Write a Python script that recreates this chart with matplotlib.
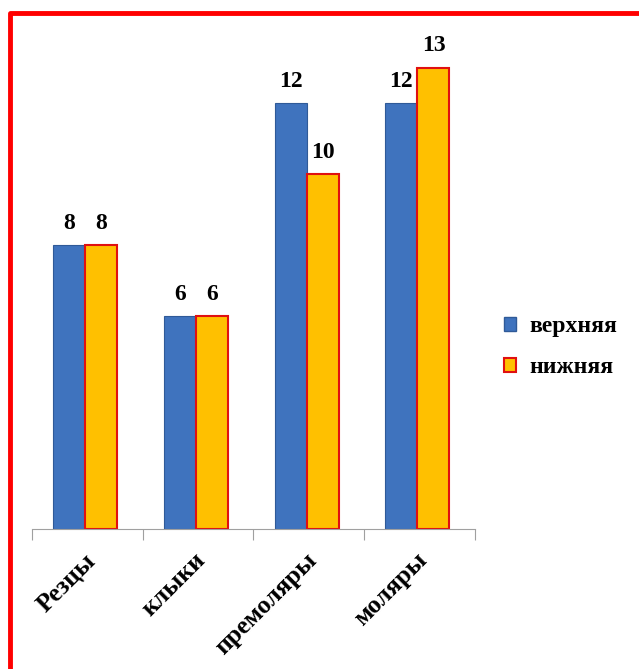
import matplotlib.pyplot as plt
import numpy as np
from matplotlib.patches import Patch
from matplotlib.lines import Line2D

categories = ['Резцы', 'клыки', 'премоляры', 'моляры']
upper = [8, 6, 12, 12]
lower = [8, 6, 10, 13]
series_names = ['верхняя', 'нижняя']

blue = '#3F73BE'
yellow = '#FFC000'
red = '#E01010'

plt.rcParams['font.family'] = ['Liberation Serif', 'DejaVu Serif']

fig = plt.figure(figsize=(6.39, 6.69), dpi=100)
ax = fig.add_axes([0.0501, 0.2093, 0.6932, 0.7533])

x = np.arange(len(categories))
w = 0.29
b1 = ax.bar(x - w / 2 - 0.02, upper, w, color=blue, edgecolor='#2F5A98', linewidth=0.8)
b2 = ax.bar(x + w / 2 - 0.02, lower, w, color=yellow, edgecolor=red, linewidth=1.5)

for bars in (b1, b2):
    for r in bars:
        ax.annotate(f'{r.get_height():g}', (r.get_x() + r.get_width() / 2, r.get_height()),
                    xytext=(0, 8), textcoords='offset points', ha='center', va='bottom',
                    fontsize=17, fontweight='bold')

ax.set_xlim(-0.5, len(categories) - 0.5)
ax.set_ylim(0, 14.2)
ax.set_yticks([])
for s in ('top', 'right', 'left'):
    ax.spines[s].set_visible(False)
ax.spines['bottom'].set_color('#A0A0A0')

ax.set_xticks(np.arange(len(categories) + 1) - 0.5)
ax.set_xticklabels([])
ax.tick_params(axis='x', length=8, color='#A0A0A0')
for i, c in enumerate(categories):
    ax.annotate(c, (i, 0), xytext=(3, -20), textcoords='offset points',
                rotation=45, ha='right', va='center', rotation_mode='anchor',
                fontsize=18.5, fontweight='bold', annotation_clip=False)

handles = [Patch(facecolor=blue, edgecolor='#2F5A98'),
           Patch(facecolor=yellow, edgecolor=red, linewidth=1.5)]
fig.legend(handles, series_names, loc='center left', bbox_to_anchor=(0.789, 0.481),
           frameon=False, borderpad=0, borderaxespad=0,
           handlelength=0.5, handleheight=0.5, handletextpad=0.55,
           labelspacing=0.85, prop={'size': 17, 'weight': 'bold'})

# red frame
fig.add_artist(Line2D([0.015, 0.015, 1.0], [0.0, 0.981, 0.981], transform=fig.transFigure,
                      color='#FF0000', linewidth=3.5, solid_joinstyle='round'))

fig.savefig('out.png', dpi=100)
